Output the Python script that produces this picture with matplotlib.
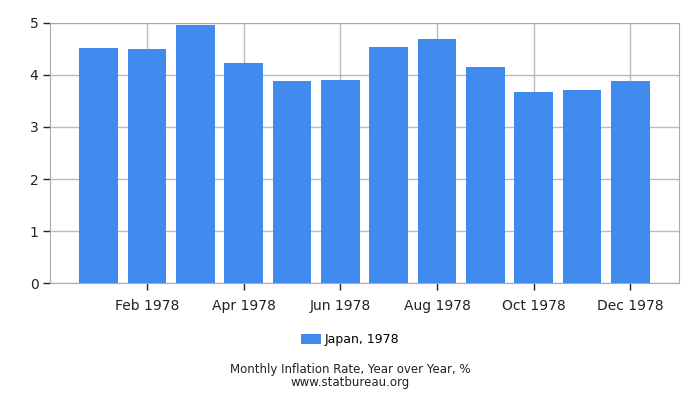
import numpy as np
import matplotlib.pyplot as plt

months = ["Jan 1978", "Feb 1978", "Mar 1978", "Apr 1978", "May 1978", "Jun 1978",
          "Jul 1978", "Aug 1978", "Sep 1978", "Oct 1978", "Nov 1978", "Dec 1978"]
japan = [4.51, 4.49, 4.95, 4.22, 3.88, 3.90, 4.53, 4.69, 4.15, 3.67, 3.71, 3.88]

fig = plt.figure(figsize=(7, 4), dpi=100)
ax = fig.add_axes([0.0719, 0.2918, 0.8977, 0.6512])

x = np.arange(len(months))
ax.bar(x, japan, width=0.8, color="#428bee", label="Japan, 1978", zorder=3)

ax.set_xlim(-1, 12)
ax.set_ylim(0, 5)
ax.set_yticks(range(0, 6))
ax.set_xticks(x[1::2], labels=months[1::2])
ax.grid(True, color="#bbbbbb", lw=1, zorder=0)
for s in ax.spines.values():
    s.set_color("#aaaaaa")
ax.tick_params(axis="both", colors="#222222", labelsize=10, length=5, width=1)
ax.tick_params(axis="x", pad=6)

fig.legend(loc="center", bbox_to_anchor=(0.5, 0.15), frameon=False, fontsize=9,
           handlelength=1.6, handleheight=0.8, handletextpad=0.3)
fig.text(0.5, 0.068, "Monthly Inflation Rate, Year over Year, %", ha="center", fontsize=8.5, color="#222222")
fig.text(0.5, 0.036, "www.statbureau.org", ha="center", fontsize=8.5, color="#222222")

fig.savefig("out.png", dpi=100)
